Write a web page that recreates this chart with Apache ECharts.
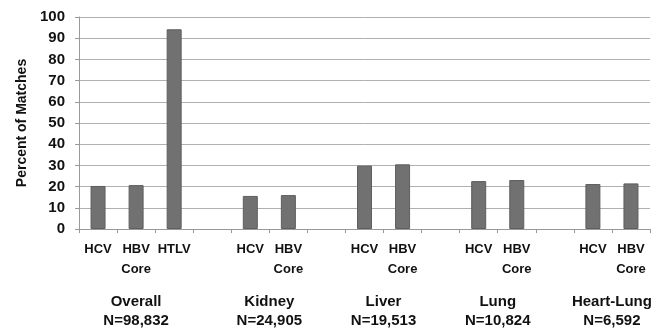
<!DOCTYPE html>
<html>
<head>
<meta charset="utf-8">
<script src="https://cdn.jsdelivr.net/npm/echarts@6/dist/echarts.min.js"></script>
<style>html,body{margin:0;padding:0;background:#fff}#c{width:659px;height:333px}</style>
</head>
<body>
<div id="c"></div>
<script>
// 15 category slots: empty strings are the gaps between organ groups
var categories = ['HCV', 'HBV\nCore', 'HTLV', '', 'HCV', 'HBV\nCore', '', 'HCV', 'HBV\nCore', '', 'HCV', 'HBV\nCore', '', 'HCV', 'HBV\nCore'];
var values = [20.3, 20.7, 94.2, null, 15.6, 16.0, null, 29.9, 30.5, null, 22.6, 23.1, null, 21.2, 21.5];
var groupLabels = ['Overall\nN=98,832', 'Kidney\nN=24,905', 'Liver\nN=19,513', 'Lung\nN=10,824', 'Heart-Lung\nN=6,592'];
var groupPositions = [1.5, 5, 8, 11, 14]; // centre of each group in category units
var yTicks = [0, 10, 20, 30, 40, 50, 60, 70, 80, 90, 100];

var font = '"Liberation Sans", Arial, sans-serif';
var chart = echarts.init(document.getElementById('c'), null, {renderer: 'canvas'});
chart.setOption({
  animation: false,
  grid: {left: 79, right: 9, top: 17, bottom: 104},
  xAxis: [{
    type: 'category',
    data: categories,
    axisLine: {lineStyle: {color: '#999', width: 1}},
    axisTick: {show: true, interval: 0, length: 4, lineStyle: {color: '#999'}},
    axisLabel: {interval: 0, margin: 10, lineHeight: 20, color: '#111', fontFamily: font, fontWeight: 'bold', fontSize: 13}
  }, {
    type: 'value',
    position: 'bottom',
    min: 0, max: 15, interval: 0.5,
    axisLine: {show: false}, axisTick: {show: false}, splitLine: {show: false},
    axisLabel: {
      margin: 63, lineHeight: 19, color: '#111', fontFamily: font, fontWeight: 'bold', fontSize: 15,
      showMinLabel: true, showMaxLabel: true,
      formatter: function (v) {
        var i = groupPositions.indexOf(v);
        return i >= 0 ? groupLabels[i] : '';
      }
    }
  }],
  yAxis: {
    type: 'value',
    min: yTicks[0], max: yTicks[yTicks.length - 1], interval: 10,
    name: 'Percent of Matches',
    nameLocation: 'middle',
    nameGap: 47,
    nameTextStyle: {color: '#111', fontFamily: font, fontWeight: 'bold', fontSize: 14},
    axisLine: {show: true, lineStyle: {color: '#999'}},
    axisTick: {show: true, length: 4, lineStyle: {color: '#999'}},
    axisLabel: {margin: 14, color: '#111', fontFamily: font, fontWeight: 'bold', fontSize: 15},
    splitLine: {lineStyle: {color: '#b0b0b0', width: 1}}
  },
  series: [{
    type: 'bar',
    xAxisIndex: 0,
    data: values,
    barWidth: 15,
    itemStyle: {color: '#717171', borderColor: '#5e5e5e', borderWidth: 1}
  }]
});
</script>
</body>
</html>
